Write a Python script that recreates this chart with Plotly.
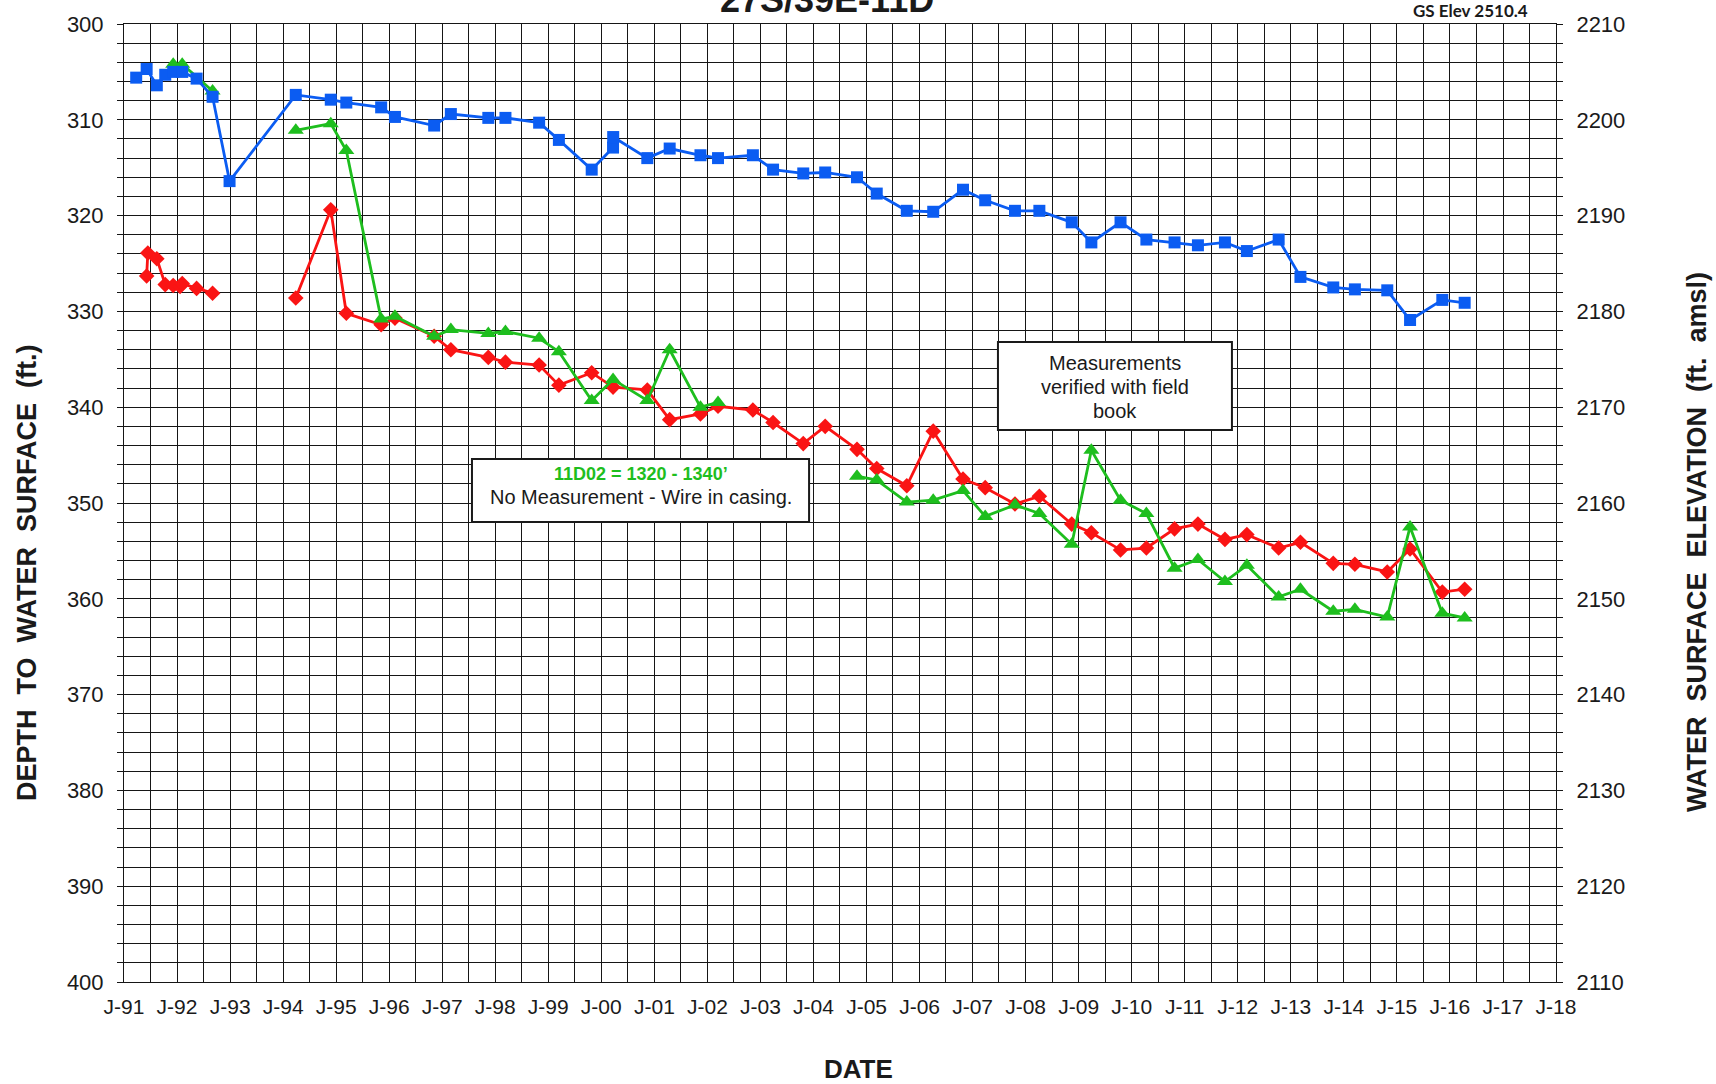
import plotly.graph_objects as go

# ---- measurement data: depth to water (ft below ground surface) ----
BLUE_DATES = [
    "1991-03-26", "1991-06-06", "1991-08-15", "1991-10-12", "1991-12-06", "1992-02-06",
    "1992-05-15", "1992-09-02", "1992-12-28", "1994-03-29", "1994-11-25", "1995-03-12",
    "1995-11-07", "1996-02-10", "1996-11-06", "1997-03-01", "1997-11-14", "1998-03-12",
    "1998-10-30", "1999-03-15", "1999-10-27", "2000-03-22", "2000-03-23", "2000-11-13",
    "2001-04-16", "2001-11-14", "2002-03-15", "2002-11-10", "2003-03-29", "2003-10-23",
    "2004-03-22", "2004-10-27", "2005-03-12", "2005-10-05", "2006-04-05", "2006-10-27",
    "2007-03-29", "2007-10-20", "2008-04-05", "2008-11-14", "2009-03-29", "2009-10-16",
    "2010-04-12", "2010-10-23", "2011-04-02", "2011-10-05", "2012-03-04", "2012-10-09",
    "2013-03-08", "2013-10-20", "2014-03-18", "2014-10-27", "2015-04-02", "2015-11-10",
    "2016-04-12",
]
BLUE_DEPTH = [
    305.6, 304.7, 306.4, 305.3, 305.0, 305.0,
    305.7, 307.6, 316.4, 307.4, 307.9, 308.2,
    308.7, 309.7, 310.6, 309.4, 309.8, 309.8,
    310.3, 312.1, 315.2, 312.9, 311.8, 314.0,
    313.0, 313.7, 314.0, 313.7, 315.2, 315.6,
    315.5, 316.0, 317.7, 319.5, 319.6, 317.3,
    318.4, 319.5, 319.5, 320.7, 322.8, 320.7,
    322.5, 322.8, 323.1, 322.8, 323.7, 322.5,
    326.4, 327.5, 327.7, 327.8, 330.9, 328.8,
    329.1,
]

RED_DATES = [
    "1991-06-06", "1991-06-14", "1991-08-15", "1991-10-12", "1991-12-06", "1992-01-22",
    "1992-02-06", "1992-05-15", "1992-09-02", None,
    "1994-03-29", "1994-11-25", "1995-03-12", "1995-11-07", "1996-02-10", "1996-11-06",
    "1997-03-01", "1997-11-14", "1998-03-12", "1998-10-30", "1999-03-15", "1999-10-27",
    "2000-03-22", "2000-11-13", "2001-04-16", "2001-11-14", "2002-03-15", "2002-11-10",
    "2003-03-29", "2003-10-23", "2004-03-22", "2004-10-27", "2005-03-12", "2005-10-05",
    "2006-04-05", "2006-10-27", "2007-03-29", "2007-10-20", "2008-04-05", "2008-11-14",
    "2009-03-29", "2009-10-16", "2010-04-12", "2010-10-23", "2011-04-02", "2011-10-05",
    "2012-03-04", "2012-10-09", "2013-03-08", "2013-10-20", "2014-03-18", "2014-10-27",
    "2015-04-02", "2015-11-10", "2016-04-12",
]
RED_DEPTH = [
    326.3, 323.9, 324.5, 327.2, 327.3, 327.4,
    327.1, 327.6, 328.1, None,
    328.6, 319.4, 330.2, 331.4, 330.7, 332.6,
    334.0, 334.8, 335.3, 335.6, 337.7, 336.4,
    337.9, 338.2, 341.3, 340.7, 339.9, 340.3,
    341.6, 343.8, 342.0, 344.4, 346.4, 348.2,
    342.5, 347.5, 348.4, 350.1, 349.3, 352.2,
    353.1, 354.9, 354.7, 352.7, 352.2, 353.8,
    353.3, 354.7, 354.1, 356.3, 356.4, 357.2,
    354.8, 359.3, 359.0,
]

GREEN_DATES = [
    "1991-12-06", "1992-02-06", "1992-09-02", None,
    "1994-03-29", "1994-11-25", "1995-03-12", "1995-11-07", "1996-02-10", "1996-11-06",
    "1997-03-01", "1997-11-14", "1998-03-12", "1998-10-30", "1999-03-15", "1999-10-27",
    "2000-03-22", "2000-11-13", "2001-04-16", "2001-11-14", "2002-03-15", None,
    "2004-10-27", "2005-03-12", "2005-10-05", "2006-04-05", "2006-10-27", "2007-03-29",
    "2007-10-20", "2008-04-05", "2008-11-14", "2009-03-29", "2009-10-16", "2010-04-12",
    "2010-10-23", "2011-04-02", "2011-10-05", "2012-03-04", "2012-10-09", "2013-03-08",
    "2013-10-20", "2014-03-18", "2014-10-27", "2015-04-02", "2015-11-10", "2016-04-12",
]
GREEN_DEPTH = [
    304.2, 304.2, 307.0, None,
    311.1, 310.4, 313.2, 330.8, 330.5, 332.6,
    331.9, 332.3, 332.1, 332.8, 334.2, 339.3,
    337.1, 339.3, 334.0, 340.0, 339.5, None,
    347.2, 347.6, 349.9, 349.7, 348.7, 351.4,
    350.2, 351.1, 354.3, 344.5, 349.7, 351.1,
    356.8, 355.9, 358.2, 356.5, 359.8, 359.0,
    361.3, 361.1, 361.9, 352.5, 361.5, 362.0,
]

# ---- axis ticks ----
YEAR_TICKS = [
    "1991-01-01", "1992-01-01", "1993-01-01", "1994-01-01", "1995-01-01", "1996-01-01",
    "1997-01-01", "1998-01-01", "1999-01-01", "2000-01-01", "2001-01-01", "2002-01-01",
    "2003-01-01", "2004-01-01", "2005-01-01", "2006-01-01", "2007-01-01", "2008-01-01",
    "2009-01-01", "2010-01-01", "2011-01-01", "2012-01-01", "2013-01-01", "2014-01-01",
    "2015-01-01", "2016-01-01", "2017-01-01", "2018-01-01",
]
YEAR_LABELS = [
    "J-91", "J-92", "J-93", "J-94", "J-95", "J-96", "J-97", "J-98", "J-99", "J-00",
    "J-01", "J-02", "J-03", "J-04", "J-05", "J-06", "J-07", "J-08", "J-09", "J-10",
    "J-11", "J-12", "J-13", "J-14", "J-15", "J-16", "J-17", "J-18",
]
MID_YEAR_TICKS = [d.replace("-01-01", "-07-01") for d in YEAR_TICKS[:-1]]

DEPTH_RANGE = [400, 300]
ELEV_RANGE = [2110, 2210]

BLUE = "#0b5cf2"
RED = "#fa1414"
GREEN = "#1ebe1e"
GRID = "#161616"
TEXT = "#1a1a1a"
FONT = "Liberation Sans, Arial, sans-serif"

fig = go.Figure()

fig.add_trace(go.Scatter(
    x=RED_DATES, y=RED_DEPTH, mode="lines+markers", name="Well 3",
    line=dict(color=RED, width=2.8),
    marker=dict(symbol="diamond", size=12, color=RED),
))
fig.add_trace(go.Scatter(
    x=GREEN_DATES, y=GREEN_DEPTH, mode="lines+markers", name="11D02",
    line=dict(color=GREEN, width=2.8),
    marker=dict(symbol="triangle-up", size=14, color=GREEN),
))
fig.add_trace(go.Scatter(
    x=BLUE_DATES, y=BLUE_DEPTH, mode="lines+markers", name="Well 1",
    line=dict(color=BLUE, width=2.8),
    marker=dict(symbol="square", size=12, color=BLUE),
))
# empty trace so the elevation axis is drawn on the right
fig.add_trace(go.Scatter(x=[None], y=[None], yaxis="y2", showlegend=False, hoverinfo="skip"))

fig.update_layout(
    width=1716, height=1084,
    margin=dict(l=124, r=160, t=24, b=102),
    paper_bgcolor="white", plot_bgcolor="white",
    showlegend=False,
    font=dict(family=FONT, size=22, color=TEXT),
    xaxis=dict(
        type="date", range=[YEAR_TICKS[0], YEAR_TICKS[-1]],
        tickmode="array", tickvals=YEAR_TICKS, ticktext=YEAR_LABELS,
        tickfont=dict(size=21), ticklabelstandoff=6,
        showgrid=True, gridcolor=GRID, gridwidth=1,
        minor=dict(tickmode="array", tickvals=MID_YEAR_TICKS, showgrid=True,
                   gridcolor=GRID, gridwidth=1),
        showline=True, linecolor=GRID, linewidth=1, mirror=True, zeroline=False,
    ),
    yaxis=dict(
        range=DEPTH_RANGE, tickmode="linear", tick0=300, dtick=10,
        showgrid=True, gridcolor=GRID, gridwidth=1,
        ticks="outside", ticklen=6, tickcolor=GRID, ticklabelstandoff=9,
        minor=dict(dtick=2, showgrid=True, gridcolor=GRID, gridwidth=1,
                   ticks="outside", ticklen=6, tickcolor=GRID),
        showline=True, linecolor=GRID, linewidth=1, mirror=True, zeroline=False,
    ),
    yaxis2=dict(
        overlaying="y", side="right", range=ELEV_RANGE,
        tickmode="linear", tick0=2110, dtick=10, showgrid=False,
        ticks="outside", ticklen=6, tickcolor=GRID, ticklabelstandoff=9,
        minor=dict(dtick=2, ticks="outside", ticklen=6, tickcolor=GRID),
        showline=True, linecolor=GRID, zeroline=False,
    ),
)

annotations = [
    dict(text="<b>27S/39E-11D</b>", x=0.491, y=1.026, font=dict(size=36, color=TEXT)),
    dict(text="<b>GS Elev 2510.4</b>", x=0.940, y=1.0136,
         font=dict(family="Lato, sans-serif", size=17, color=TEXT)),
    dict(text="<b>DEPTH\u00a0 TO\u00a0 WATER\u00a0 SURFACE\u00a0 (ft.)</b>",
         x=-0.0677, y=0.427, textangle=-90, font=dict(size=27, color=TEXT)),
    dict(text="<b>WATER\u00a0 SURFACE\u00a0 ELEVATION\u00a0 (ft.\u00a0 amsl)</b>",
         x=1.099, y=0.459, textangle=-90, font=dict(size=27, color=TEXT)),
    dict(text="<b>DATE</b>", x=0.5126, y=-0.091, font=dict(size=26, color=TEXT)),
    dict(text="<b>11D02 = 1320 - 1340\u2019</b>", x=0.3607, y=0.5303,
         font=dict(size=18, color=GREEN)),
    dict(text="No Measurement - Wire in casing.", x=0.3607, y=0.5063,
         font=dict(size=20, color=TEXT)),
    dict(text="Measurements", x=0.6920, y=0.6458, font=dict(size=20, color=TEXT)),
    dict(text="verified with field", x=0.6920, y=0.6208, font=dict(size=20, color=TEXT)),
    dict(text="book", x=0.6920, y=0.5963, font=dict(size=20, color=TEXT)),
]
for a in annotations:
    fig.add_annotation(xref="paper", yref="paper", showarrow=False,
                       xanchor="center", yanchor="middle", **a)

# note boxes
for x0, x1, y0, y1 in [(0.2430, 0.4784, 0.4802, 0.5459), (0.6103, 0.7737, 0.5762, 0.6681)]:
    fig.add_shape(type="rect", xref="paper", yref="paper", x0=x0, x1=x1, y0=y0, y1=y1,
                  line=dict(color=TEXT, width=2), fillcolor="white", layer="above")

fig.write_html("out.html")
